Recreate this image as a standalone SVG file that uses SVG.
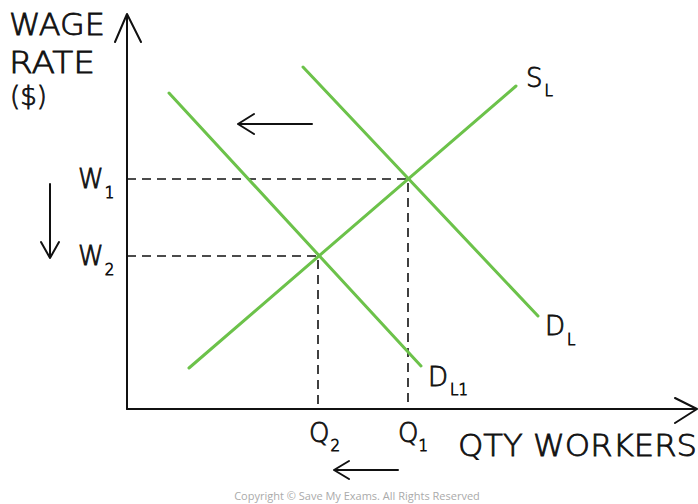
<svg xmlns="http://www.w3.org/2000/svg" width="698" height="504" viewBox="0 0 698 504">
<style>
.ax{stroke:#111;stroke-width:2;fill:none;stroke-linecap:round;stroke-linejoin:round}
.cv{stroke:#6cc24a;stroke-width:3;fill:none;stroke-linecap:round}
.ds{stroke:#111;stroke-width:1.6;stroke-dasharray:9 6;fill:none}
.t{font-family:"DejaVu Sans","Liberation Sans",Arial,sans-serif;fill:#111;font-weight:300;stroke:#111;stroke-width:0.8}
.big{font-size:30px}
.lab{font-size:26px}
.sub{font-size:15px}
.cp{font-size:11px;fill:#aaa;stroke:none;font-family:"Open Sans","Liberation Sans",sans-serif}
</style>
<rect width="698" height="504" fill="#fff"/>
<g id="axes">
<path class="ax" d="M127 409 V14 M115 42 L127 14 L141 42"/>
<path class="ax" d="M127 409 H697 M675 398 L697 409 L675 423"/>
</g>
<g id="connectors">
<path class="ds" d="M127 179 H408 V409"/>
<path class="ds" d="M127 256 H318 V409"/>
<path class="ax" d="M312 124 H238 M254 114 L238 124 L254 134"/>
<path class="ax" d="M50 184 V258 M41 242 L50 258 L59 242"/>
<path class="ax" d="M398 470 H334 M349 461 L334 470 L349 479"/>
</g>
<g id="SL"><line class="cv" x1="189" y1="368" x2="516" y2="86"/><text class="t lab" x="526" y="87">S<tspan class="sub" dx="2" dy="9">L</tspan></text></g>
<g id="DL"><line class="cv" x1="303" y1="67" x2="538" y2="316"/><text class="t lab" x="545" y="335">D<tspan class="sub" dx="2" dy="10">L</tspan></text></g>
<g id="DL1"><line class="cv" x1="169" y1="93" x2="421" y2="366"/><text class="t lab" x="428" y="386">D<tspan class="sub" dx="2" dy="9">L1</tspan></text></g>
<g id="labels">
<text class="t big" x="9" y="35" textLength="96" lengthAdjust="spacingAndGlyphs">WAGE</text>
<text class="t big" x="9" y="73" textLength="86" lengthAdjust="spacingAndGlyphs">RATE</text>
<text class="t" style="font-size:26px" x="10" y="105">($)</text>
<text class="t lab" x="78" y="188">W<tspan class="sub" dx="1" dy="10">1</tspan></text>
<text class="t lab" x="78" y="265">W<tspan class="sub" dx="1" dy="10">2</tspan></text>
<text class="t lab" x="309" y="442">Q<tspan class="sub" dx="1" dy="9">2</tspan></text>
<text class="t lab" x="398" y="442">Q<tspan class="sub" dy="9">1</tspan></text>
<text class="t big" x="458" y="456" textLength="239" lengthAdjust="spacingAndGlyphs">QTY WORKERS</text>
<text class="cp" x="357" y="500" text-anchor="middle">Copyright © Save My Exams. All Rights Reserved</text>
</g>
</svg>
